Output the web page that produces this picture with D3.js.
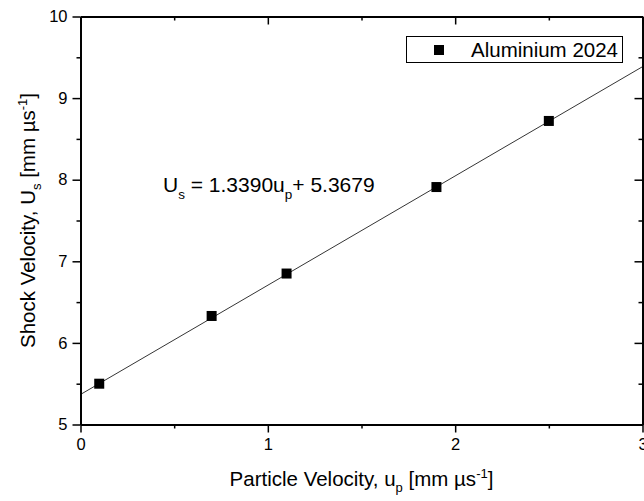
<!DOCTYPE html>
<html>
<head>
<meta charset="utf-8">
<script src="https://cdn.jsdelivr.net/npm/d3@7"></script>
<style>
  body { margin: 0; background: #fff; }
  svg { display: block; font-family: "Liberation Sans", Arial, sans-serif; }
</style>
</head>
<body>
<svg id="chart" width="644" height="501"></svg>
<script>
// data
const upValues = [0.1, 0.7, 1.1, 1.9, 2.5];
const usValues = [5.50, 6.33, 6.85, 7.91, 8.72];
const fitSlope = 1.3390;
const fitIntercept = 5.3679;
const xTicks = [0, 1, 2, 3];
const yTicks = [5, 6, 7, 8, 9, 10];
const xMinorTicks = [0.5, 1.5, 2.5];
const yMinorTicks = [5.5, 6.5, 7.5, 8.5, 9.5];
const seriesName = "Aluminium 2024";

const svg = d3.select("#chart");
const margin = { left: 80.5, right: 1.5, top: 16.5, bottom: 76.5 };
const width = +svg.attr("width");
const height = +svg.attr("height");

const x = d3.scaleLinear().domain([0, 3]).range([margin.left, width - margin.right]);
const y = d3.scaleLinear().domain([5, 10]).range([height - margin.bottom, margin.top]);

const x0 = x.range()[0], x1 = x.range()[1];
const y0 = y.range()[0], y1 = y.range()[1];

// fit line, clipped to plot
svg.append("clipPath").attr("id", "clip")
  .append("rect").attr("x", x0).attr("y", y1).attr("width", x1 - x0).attr("height", y0 - y1);

svg.append("line")
  .attr("clip-path", "url(#clip)")
  .attr("x1", x(0)).attr("y1", y(fitIntercept))
  .attr("x2", x(3)).attr("y2", y(fitIntercept + fitSlope * 3))
  .attr("stroke", "#000").attr("stroke-width", 0.8);

// axes
function styleAxis(g) {
  g.select(".domain").attr("stroke-width", 1.8);
  g.selectAll(".tick line").attr("stroke-width", 1.5);
  g.selectAll("text").attr("font-size", 16.5).attr("fill", "#000")
    .attr("font-family", "Liberation Sans, Arial, sans-serif");
}

svg.append("g").attr("transform", `translate(0,${y0})`)
  .call(d3.axisBottom(x).tickValues(xTicks).tickFormat(d3.format("d")).tickSize(8).tickSizeOuter(0).tickPadding(6))
  .call(styleAxis);
svg.append("g").attr("transform", `translate(0,${y0})`)
  .call(d3.axisBottom(x).tickValues(xMinorTicks).tickFormat("").tickSize(4).tickSizeOuter(0))
  .call(styleAxis);

svg.append("g").attr("transform", `translate(${x0},0)`)
  .call(d3.axisLeft(y).tickValues(yTicks).tickFormat(d3.format("d")).tickSize(8).tickSizeOuter(0).tickPadding(5))
  .call(styleAxis);
svg.append("g").attr("transform", `translate(${x0},0)`)
  .call(d3.axisLeft(y).tickValues(yMinorTicks).tickFormat("").tickSize(4).tickSizeOuter(0))
  .call(styleAxis);

// mirrored axes, ticks pointing inward
svg.append("g").attr("transform", `translate(0,${y1})`)
  .call(d3.axisBottom(x).tickValues(xTicks).tickFormat("").tickSize(8).tickSizeOuter(0))
  .call(styleAxis);
svg.append("g").attr("transform", `translate(0,${y1})`)
  .call(d3.axisBottom(x).tickValues(xMinorTicks).tickFormat("").tickSize(4).tickSizeOuter(0))
  .call(styleAxis);
svg.append("g").attr("transform", `translate(${x1},0)`)
  .call(d3.axisLeft(y).tickValues(yTicks).tickFormat("").tickSize(8).tickSizeOuter(0))
  .call(styleAxis);
svg.append("g").attr("transform", `translate(${x1},0)`)
  .call(d3.axisLeft(y).tickValues(yMinorTicks).tickFormat("").tickSize(4).tickSizeOuter(0))
  .call(styleAxis);

// points
const sq = 10;
svg.append("g").selectAll("rect")
  .data(upValues)
  .enter()
  .append("rect")
  .attr("x", (d) => x(d) - sq / 2)
  .attr("y", (d, i) => y(usValues[i]) - sq / 2)
  .attr("width", sq)
  .attr("height", sq)
  .attr("fill", "#000");

// legend
const legend = svg.append("g");
legend.append("rect")
  .attr("x", 406.5).attr("y", 36.5).attr("width", 216).attr("height", 26)
  .attr("fill", "#fff").attr("stroke", "#000").attr("stroke-width", 1);
legend.append("rect")
  .attr("x", 434).attr("y", 45).attr("width", sq).attr("height", sq).attr("fill", "#000");
legend.append("text")
  .attr("x", 471).attr("y", 57).attr("font-size", 20.5).text(seriesName);

// equation
const eq = svg.append("text").attr("x", 163).attr("y", 192).attr("font-size", 21);
eq.append("tspan").text("U");
eq.append("tspan").attr("font-size", 13.5).attr("dy", 7).text("s");
eq.append("tspan").attr("dy", -7).text(" = " + fitSlope.toFixed(4) + "u");
eq.append("tspan").attr("font-size", 13.5).attr("dy", 7).text("p");
eq.append("tspan").attr("dy", -7).text("+ " + fitIntercept.toFixed(4));

// axis titles
const xt = svg.append("text").attr("x", (x0 + x1) / 2).attr("y", 486)
  .attr("text-anchor", "middle").attr("font-size", 20.5);
xt.append("tspan").text("Particle Velocity, u");
xt.append("tspan").attr("font-size", 13).attr("dy", 6).text("p");
xt.append("tspan").attr("dy", -6).text(" [mm \u00b5s");
xt.append("tspan").attr("font-size", 13).attr("dy", -8).text("-1");
xt.append("tspan").attr("dy", 8).text("]");

const yt = svg.append("text")
  .attr("transform", `translate(35,${(y0 + y1) / 2}) rotate(-90)`)
  .attr("text-anchor", "middle").attr("font-size", 20.5);
yt.append("tspan").text("Shock Velocity, U");
yt.append("tspan").attr("font-size", 13).attr("dy", 6).text("s");
yt.append("tspan").attr("dy", -6).text(" [mm \u00b5s");
yt.append("tspan").attr("font-size", 13).attr("dy", -8).text("-1");
yt.append("tspan").attr("dy", 8).text("]");
</script>
</body>
</html>
